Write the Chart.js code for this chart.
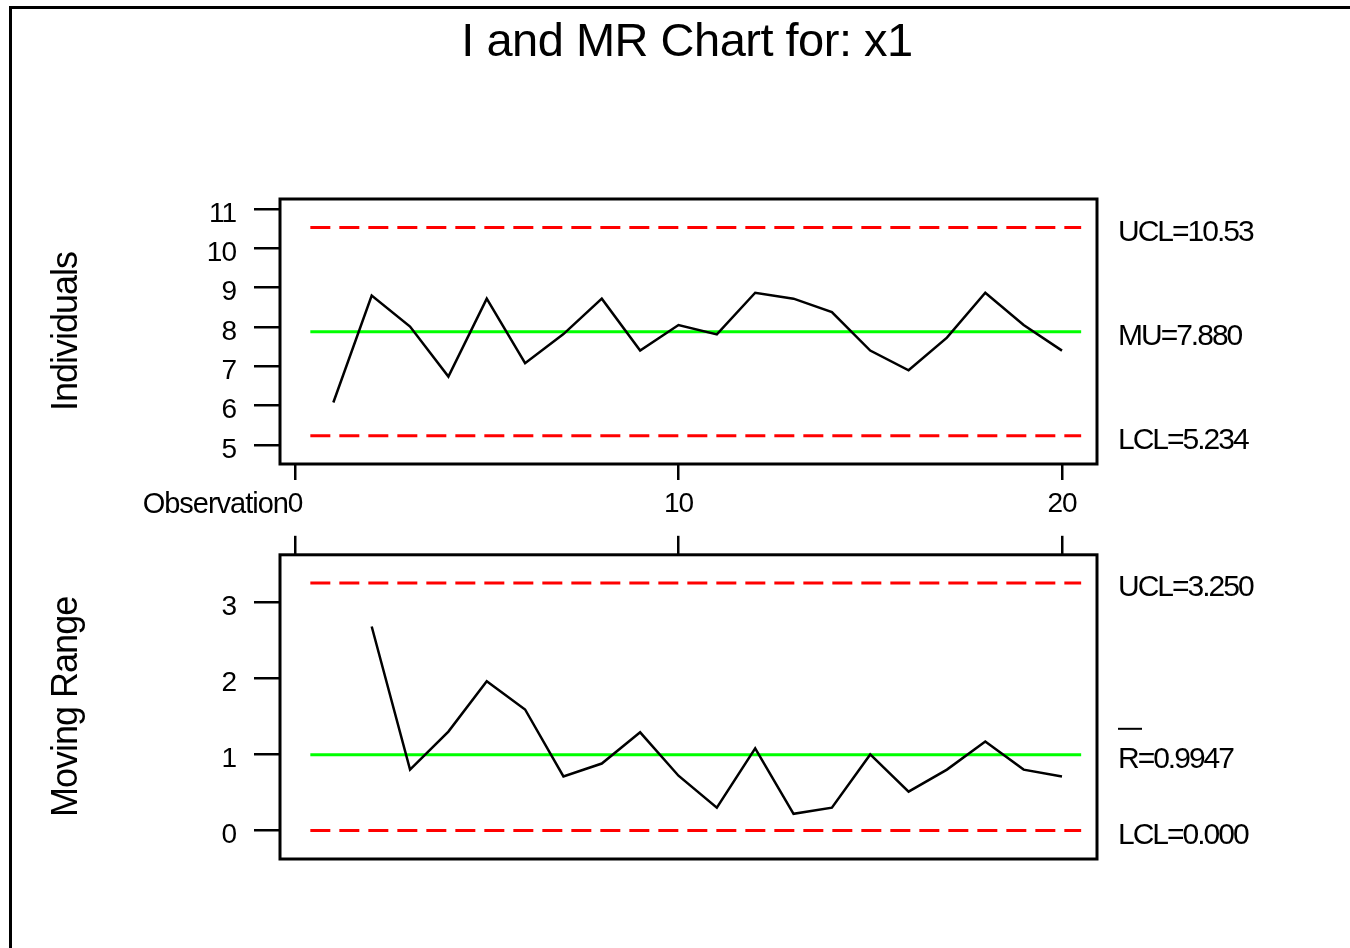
<!DOCTYPE html>
<html>
<head>
<meta charset="utf-8">
<title>I and MR Chart for: x1</title>
<script src="https://cdn.jsdelivr.net/npm/chart.js@4.4.1/dist/chart.umd.min.js"></script>
<style>
  body { margin: 0; background: #fff; width: 1350px; height: 948px; overflow: hidden; position: relative; }
  #frame { position: absolute; left: 9px; top: 6px; width: 1400px; height: 1000px; border-left: 3px solid #000; border-top: 3px solid #000; }
  .wrap { position: absolute; left: 0; width: 1350px; }
</style>
</head>
<body>
<div id="frame"></div>
<div class="wrap" style="top:0;height:520px"><canvas id="iChart" width="1350" height="520"></canvas></div>
<div class="wrap" style="top:520px;height:428px"><canvas id="mrChart" width="1350" height="428"></canvas></div>
<script>
// values
const observations = [1, 2, 3, 4, 5, 6, 7, 8, 9, 10, 11, 12, 13, 14, 15, 16, 17, 18, 19, 20];
const individuals = [6.08, 8.80, 8.01, 6.74, 8.72, 7.08, 7.82, 8.72, 7.40, 8.05,
                     7.81, 8.87, 8.72, 8.38, 7.40, 6.90, 7.73, 8.87, 8.05, 7.40];
const movingRange = [null, 2.68, 0.80, 1.30, 1.96, 1.59, 0.71, 0.88, 1.29, 0.72,
                     0.30, 1.08, 0.22, 0.30, 1.00, 0.51, 0.80, 1.17, 0.80, 0.71];

const iLimitValues = [10.53, 7.880, 5.234];
const iLimitLabels = ["UCL=10.53", "MU=7.880", "LCL=5.234"];
const mrLimitValues = [3.250, 0.9947, 0.000];
const mrLimitLabels = ["UCL=3.250", "R=0.9947", "LCL=0.000"];
const limitKinds = ["ucl", "cl", "lcl"];
const limitSpan = [0.4, 20.5];

const iTicks = [5, 6, 7, 8, 9, 10, 11];
const mrTicks = [0, 1, 2, 3];
const obsTicks = [0, 10, 20];

const FONT = '"Liberation Sans", Arial, sans-serif';
Chart.defaults.font.family = FONT;
Chart.defaults.color = "#000";

function limitDatasets(values) {
  return values.map((v, i) => ({
    data: limitSpan.map(x => ({ x: x, y: v })),
    borderColor: limitKinds[i] === "cl" ? "#00ff00" : "#ff0000",
    borderWidth: 3,
    borderDash: limitKinds[i] === "cl" ? [] : [20, 9],
    pointRadius: 0,
    tension: 0
  }));
}

function lineDataset(values) {
  return {
    data: observations.map((x, i) => ({ x: x, y: values[i] })),
    borderColor: "#000",
    borderWidth: 2.5,
    pointRadius: 0,
    tension: 0
  };
}

const boxAndLabels = {
  id: "boxAndLabels",
  beforeDraw(chart) {
    chart.ctx.letterSpacing = "-1px";
  },
  afterDraw(chart, args, opts) {
    const { ctx, chartArea: a, scales } = chart;
    ctx.save();
    ctx.strokeStyle = "#000";
    ctx.lineWidth = 3;
    ctx.strokeRect(a.left, a.top, a.right - a.left, a.bottom - a.top);

    ctx.fillStyle = "#000";
    ctx.textAlign = "left";
    ctx.textBaseline = "middle";
    ctx.font = "30px " + FONT;
    ctx.letterSpacing = "-2px";
    opts.values.forEach((v, i) => {
      const y = scales.y.getPixelForValue(v) + 5;
      ctx.fillText(opts.labels[i], a.right + 21, y);
      if (i === opts.barIndex) {
        ctx.lineWidth = 2;
        ctx.beginPath();
        ctx.moveTo(a.right + 21, y - 31);
        ctx.lineTo(a.right + 45, y - 31);
        ctx.stroke();
      }
    });

    if (opts.title) {
      ctx.textAlign = "center";
      ctx.font = "47px " + FONT;
      ctx.letterSpacing = "-0.5px";
      ctx.fillText(opts.title, 687, 43);
    }
    if (opts.xLabel) {
      ctx.textAlign = "right";
      ctx.font = "29px " + FONT;
      ctx.letterSpacing = "-1px";
      ctx.fillText(opts.xLabel, scales.x.getPixelForValue(0) - 7, a.bottom + 41);
    }
    ctx.restore();
  }
};

function yScale(min, max, ticks, title) {
  return {
    type: "linear",
    min: min,
    max: max,
    afterBuildTicks: s => { s.ticks = ticks.map(v => ({ value: v })); },
    afterFit: s => { s.width = 280; },
    grid: { drawOnChartArea: false, drawTicks: true, tickLength: 26, color: "#000", lineWidth: 2.5 },
    border: { display: false },
    ticks: { color: "#000", font: { size: 28 }, padding: 18, labelOffset: 5, autoSkip: false },
    title: { display: true, text: title, color: "#000", font: { size: 36 }, padding: { top: 45, bottom: 0 } }
  };
}

new Chart(document.getElementById("iChart"), {
  type: "line",
  data: { datasets: [lineDataset(individuals), ...limitDatasets(iLimitValues)] },
  options: {
    responsive: false,
    animation: false,
    layout: { autoPadding: false, padding: { top: 199, right: 253, left: 0, bottom: 0 } },
    plugins: {
      legend: { display: false },
      tooltip: { enabled: false },
      boxAndLabels: {
        values: iLimitValues, labels: iLimitLabels, barIndex: -1,
        title: "I and MR Chart for: x1", xLabel: "Observation"
      }
    },
    scales: {
      x: {
        type: "linear",
        min: -0.391,
        max: 20.913,
        position: "bottom",
        afterBuildTicks: s => { s.ticks = obsTicks.map(v => ({ value: v })); },
        afterFit: s => { s.height = 56; },
        grid: { drawOnChartArea: false, drawTicks: true, tickLength: 16, color: "#000", lineWidth: 2.5 },
        border: { display: false },
        ticks: { color: "#000", font: { size: 28 }, padding: 7, maxRotation: 0, autoSkip: false }
      },
      y: yScale(4.517, 11.254, iTicks, "Individuals")
    }
  },
  plugins: [boxAndLabels]
});

new Chart(document.getElementById("mrChart"), {
  type: "line",
  data: { datasets: [lineDataset(movingRange), ...limitDatasets(mrLimitValues)] },
  options: {
    responsive: false,
    animation: false,
    layout: { autoPadding: false, padding: { top: 0, right: 253, left: 0, bottom: 89 } },
    plugins: {
      legend: { display: false },
      tooltip: { enabled: false },
      boxAndLabels: { values: mrLimitValues, labels: mrLimitLabels, barIndex: 1 }
    },
    scales: {
      x: {
        type: "linear",
        min: -0.391,
        max: 20.913,
        position: "top",
        afterBuildTicks: s => { s.ticks = obsTicks.map(v => ({ value: v })); },
        afterFit: s => { s.height = 29; },
        grid: { drawOnChartArea: false, drawTicks: true, tickLength: 19, color: "#000", lineWidth: 2.5 },
        border: { display: false },
        ticks: { display: false }
      },
      y: yScale(-0.374, 3.622, mrTicks, "Moving Range")
    }
  },
  plugins: [boxAndLabels]
});
</script>
</body>
</html>
